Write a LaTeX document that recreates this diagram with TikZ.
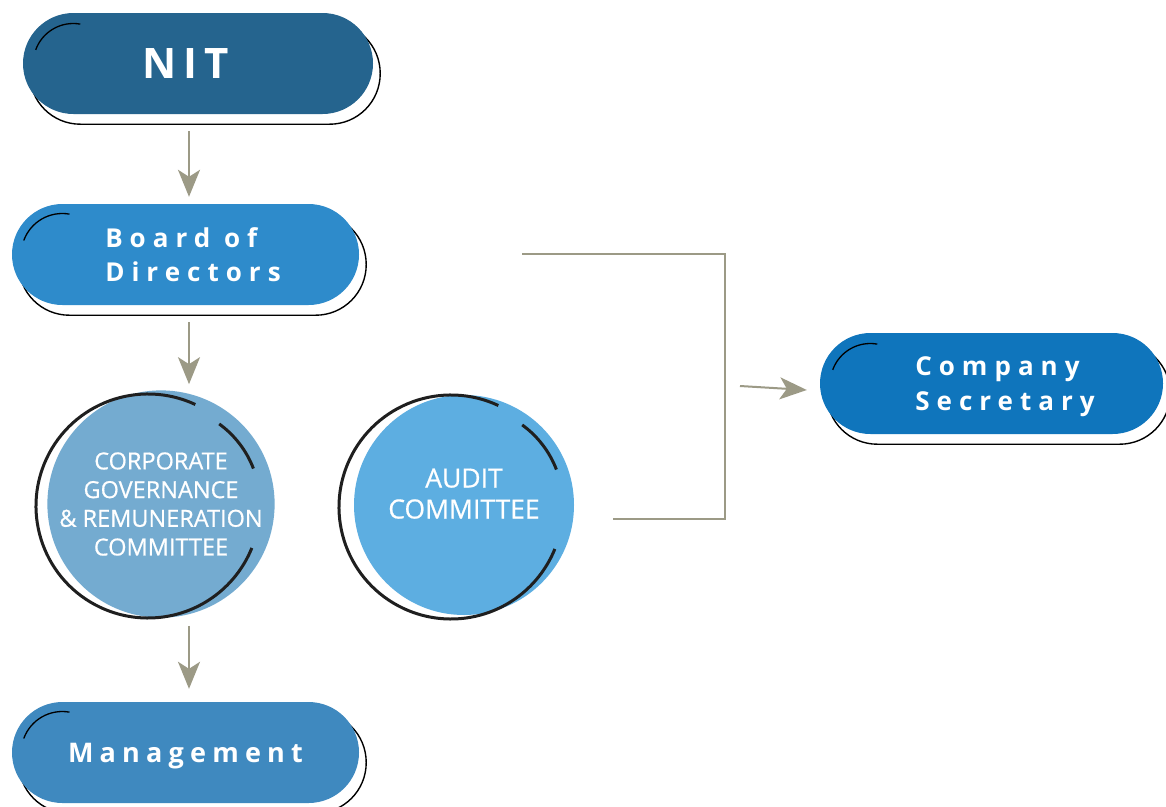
\documentclass[tikz,border=0pt]{standalone}
\usepackage{fontspec}
\setmainfont{Open Sans}
\newfontfamily\nitfont{Open Sans}[LetterSpace=16]
\newfontfamily\pillfont{Open Sans}[LetterSpace=27]
\newfontfamily\mgfont{Open Sans}[LetterSpace=23]
\newfontfamily\circfont{Open Sans}[FakeBold=0.6]
\usetikzlibrary{arrows.meta,calc}
\pgfdeclarelayer{back}
\pgfdeclarelayer{bg}
\pgfsetlayers{back,bg,main}
\definecolor{nitc}{HTML}{25648E}
\definecolor{bdc}{HTML}{2E8BCB}
\definecolor{cgc}{HTML}{74ABD0}
\definecolor{acc}{HTML}{5DAEE1}
\definecolor{csc}{HTML}{0F75BC}
\definecolor{mgc}{HTML}{3F89BF}
\definecolor{arrc}{HTML}{9C9A86}
\begin{document}
\begin{tikzpicture}[x=1pt,y=1pt,
  pill/.style={rectangle, rounded corners=50.5pt, minimum height=101pt, inner sep=0pt, text=white, align=left},
  pilltxt/.style={font=\pillfont\bfseries\fontsize{26}{34.5}\selectfont},
  comm/.style={circle, minimum size=220pt, inner sep=0pt, text=white, align=center},
  shadowline/.style={draw=black, line width=1.4pt, rounded corners=50.5pt},
  hilite/.style={draw=black, line width=1.3pt},
  ring/.style={draw=black!88, line width=3pt},
  arr/.style={draw=arrc, line width=2pt, -{Stealth[length=27pt,width=22pt,inset=7pt]}},
  conn/.style={draw=arrc, line width=2pt}
]
\useasboundingbox (0,0) rectangle (1166,-806);
\begin{pgfonlayer}{back}
\fill[white] (0,0) rectangle (1166,-806);
\end{pgfonlayer}

% pills
\node[pill, fill=nitc, minimum width=350pt, font=\nitfont\bfseries\fontsize{42}{50}\selectfont] (nit) at (198,-63.5) {NIT\hspace*{25pt}};
\node[pill, pilltxt, fill=bdc, minimum width=347pt] (bd) at (185.5,-254.5) {\hspace*{15pt}Board of\\\hspace*{15pt}Directors};
\node[pill, pilltxt, fill=csc, minimum width=343pt, text depth=0pt] (cs) at (991.5,-383.5) {\hspace*{27pt}Company\\\hspace*{27pt}Secretary};
\node[pill, fill=mgc, minimum width=347pt, text depth=0pt, font=\mgfont\bfseries\fontsize{27}{32}\selectfont] (mg) at (185.5,-752.5) {Management};

% committees
\node[comm, fill=cgc, font=\circfont\fontsize{23.5}{28.7}\selectfont] (cg) at (161,-504) {CORPORATE\\GOVERNANCE\\\& REMUNERATION\\COMMITTEE};
\node[comm, fill=acc, font=\circfont\fontsize{26.5}{31}\selectfont, text depth=23pt] (ac) at (464,-505) {AUDIT\\COMMITTEE};

% pill shadows
\begin{pgfonlayer}{bg}
\foreach \n in {nit,bd,cs,mg}
  \draw[shadowline] ([shift={(7,-10)}]\n.south west) rectangle ([shift={(7,-10)}]\n.north east);
\end{pgfonlayer}

% pill highlights
\draw[hilite] ($(nit.west)+(50.5,0)+(160:40)$) arc[start angle=160,end angle=80,radius=40];
\draw[hilite] ($(bd.west)+(50.5,0)+(160:41)$) arc[start angle=160,end angle=80,radius=41];
\draw[hilite] ($(cs.west)+(50.5,0)+(160:40)$) arc[start angle=160,end angle=80,radius=40];
\draw[hilite] ($(mg.west)+(50.5,0)+(160:41)$) arc[start angle=160,end angle=80,radius=41];

% committee rings
\foreach \n in {cg,ac}{
  \draw[ring] ($(\n.center)+(-13,-2)+(65:112)$) arc[start angle=65,end angle=338,radius=112];
  \draw[ring] ($(\n.center)+(54:99)$) arc[start angle=54,end angle=21,radius=99];
}

% arrows
\draw[arr] ([shift={(-9,-17)}]nit.south) -- ([shift={(3.5,7)}]bd.north);
\draw[arr] ([shift={(3.5,-17)}]bd.south) -- ([shift={(28,6)}]cg.north);
\draw[arr] ([shift={(28,-8)}]cg.south) -- ([shift={(3.5,13)}]mg.north);

% bracket to company secretary
\coordinate (bt) at (522,-254);
\coordinate (bc) at (725,-254);
\coordinate (bb) at (725,-519);
\coordinate (ab) at (613,-519);
\coordinate (at) at (740,-386);
\draw[conn] (bt) -- (bc) -- (bb) -- (ab);
\draw[arr] (at) -- ([shift={(-13,-6.5)}]cs.west);
\end{tikzpicture}
\end{document}
